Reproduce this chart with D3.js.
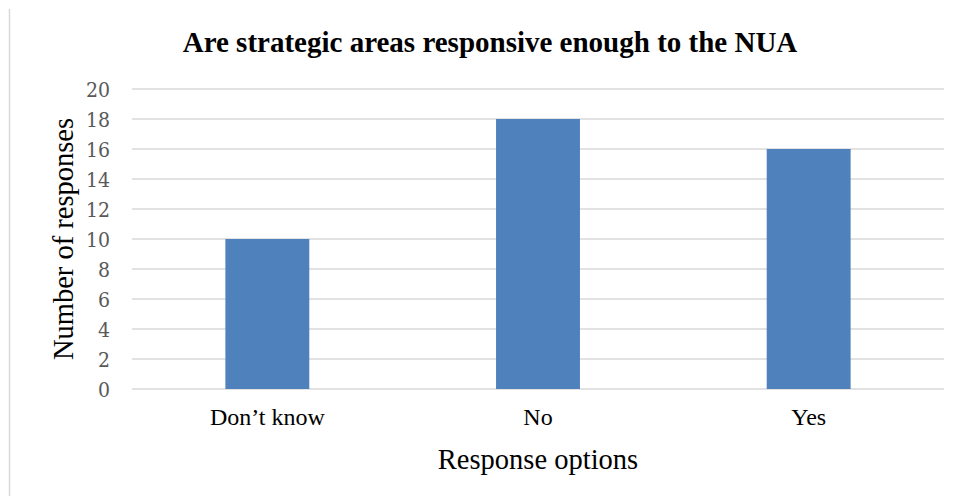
<!DOCTYPE html>
<html><head><meta charset="utf-8">
<script src="https://cdn.jsdelivr.net/npm/d3@7"></script>
<style>body{margin:0;background:#fff}svg{display:block}</style>
</head><body>
<svg id="c" width="961" height="496"></svg>
<script>
const categories = ["Don\u2019t know", "No", "Yes"];
const values = [10, 18, 16];
const yTicks = [0, 2, 4, 6, 8, 10, 12, 14, 16, 18, 20];
const title = "Are strategic areas responsive enough to the NUA";
const xTitle = "Response options";
const yTitle = "Number of responses";

const svg = d3.select("#c");
const L = 132, R = 944, T = 89, B = 389;
const x = d3.scaleBand().domain(categories).range([L, R]).padding(0);
const y = d3.scaleLinear().domain([0, 20]).range([B, T]);

// left border
svg.append("line").attr("x1", 9.5).attr("x2", 9.5).attr("y1", 9).attr("y2", 496)
  .attr("stroke", "#d9d9d9").attr("stroke-width", 1.5);

// gridlines
svg.append("g").selectAll("line").data(yTicks).join("line")
  .attr("x1", L).attr("x2", R).attr("y1", d => y(d)).attr("y2", d => y(d))
  .attr("stroke", "#d9d9d9").attr("stroke-width", 1.5);

// bars
const bw = x.bandwidth() * 0.31;
svg.append("g").selectAll("rect").data(values).join("rect")
  .attr("x", (d, i) => x(categories[i]) + x.bandwidth() / 2 - bw / 2)
  .attr("width", bw)
  .attr("y", d => y(d))
  .attr("height", d => y(0) - y(d))
  .attr("fill", "#4f81bd");

// y tick labels
svg.append("g").selectAll("text").data(yTicks).join("text")
  .attr("x", 110).attr("y", d => y(d)).attr("dy", "0.36em")
  .attr("text-anchor", "end")
  .attr("font-family", "DejaVu Serif Condensed, DejaVu Serif, serif").attr("font-size", 21)
  .attr("fill", "#595959").text(d => d);

// x tick labels
svg.append("g").selectAll("text").data(categories).join("text")
  .attr("x", d => x(d) + x.bandwidth() / 2).attr("y", 425)
  .attr("text-anchor", "middle")
  .attr("font-family", "Liberation Serif, serif").attr("font-size", 24)
  .attr("fill", "#000").text(d => d);

// title
svg.append("text").attr("x", 490).attr("y", 52).attr("text-anchor", "middle")
  .attr("font-family", "Liberation Serif, serif").attr("font-weight", "bold")
  .attr("font-size", 29).attr("fill", "#000").text(title);

// x title
svg.append("text").attr("x", 538).attr("y", 469).attr("text-anchor", "middle")
  .attr("font-family", "Liberation Serif, serif").attr("font-size", 28.5)
  .attr("fill", "#000").text(xTitle);

// y title
svg.append("text").attr("transform", "translate(73,239) rotate(-90)")
  .attr("text-anchor", "middle")
  .attr("font-family", "Liberation Serif, serif").attr("font-size", 28.5)
  .attr("fill", "#000").text(yTitle);
</script>
</body></html>
